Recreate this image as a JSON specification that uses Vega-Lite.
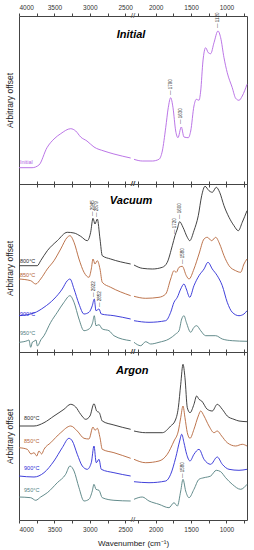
{
"$schema":"https://vega.github.io/schema/vega-lite/v6.json",
"padding":{"left":5,"top":4,"right":2,"bottom":2},
"spacing":0,
"bounds":"flush",
"columns":2,
"config":{"view":{"stroke":null},"font":"Liberation Sans",
"axis":{"grid":false,"domainColor":"#444","tickColor":"#444","labelColor":"#333","titleColor":"#222","labelFont":"Liberation Sans","titleFont":"Liberation Sans","labelFontSize":6.5,"titleFontWeight":"normal","domainWidth":1,"tickSize":3,"format":"d"}},
"datasets":{
"spectra":[
{"p":"I","g":"L","s":"Initial","x":4000,"y":16.3},{"p":"I","g":"L","s":"Initial","x":3816,"y":16.3},{"p":"I","g":"L","s":"Initial","x":3718,"y":19},{"p":"I","g":"L","s":"Initial","x":3605,"y":36.3},{"p":"I","g":"L","s":"Initial","x":3506,"y":45},{"p":"I","g":"L","s":"Initial","x":3411,"y":50.3},{"p":"I","g":"L","s":"Initial","x":3270,"y":55.3},{"p":"I","g":"L","s":"Initial","x":3199,"y":53},{"p":"I","g":"L","s":"Initial","x":3129,"y":47},{"p":"I","g":"L","s":"Initial","x":3040,"y":43},{"p":"I","g":"L","s":"Initial","x":2941,"y":37},{"p":"I","g":"L","s":"Initial","x":2800,"y":33},{"p":"I","g":"L","s":"Initial","x":2659,"y":30},{"p":"I","g":"L","s":"Initial","x":2423,"y":26},
{"p":"I","g":"R","s":"Initial","x":2306,"y":24.7},{"p":"I","g":"R","s":"Initial","x":2189,"y":23},{"p":"I","g":"R","s":"Initial","x":2047,"y":23},{"p":"I","g":"R","s":"Initial","x":1953,"y":24.7},{"p":"I","g":"R","s":"Initial","x":1906,"y":33},{"p":"I","g":"R","s":"Initial","x":1858,"y":56.3},{"p":"I","g":"R","s":"Initial","x":1822,"y":76.3},{"p":"I","g":"R","s":"Initial","x":1788,"y":86.3},{"p":"I","g":"R","s":"Initial","x":1755,"y":76.3},{"p":"I","g":"R","s":"Initial","x":1717,"y":53},{"p":"I","g":"R","s":"Initial","x":1685,"y":46.3},{"p":"I","g":"R","s":"Initial","x":1638,"y":57},{"p":"I","g":"R","s":"Initial","x":1600,"y":47},{"p":"I","g":"R","s":"Initial","x":1539,"y":46.3},{"p":"I","g":"R","s":"Initial","x":1505,"y":53},{"p":"I","g":"R","s":"Initial","x":1459,"y":78},{"p":"I","g":"R","s":"Initial","x":1426,"y":84.7},{"p":"I","g":"R","s":"Initial","x":1388,"y":83.7},{"p":"I","g":"R","s":"Initial","x":1364,"y":93},{"p":"I","g":"R","s":"Initial","x":1332,"y":123},{"p":"I","g":"R","s":"Initial","x":1294,"y":136.3},{"p":"I","g":"R","s":"Initial","x":1257,"y":131.3},{"p":"I","g":"R","s":"Initial","x":1223,"y":130.3},{"p":"I","g":"R","s":"Initial","x":1176,"y":141.3},{"p":"I","g":"R","s":"Initial","x":1120,"y":153},{"p":"I","g":"R","s":"Initial","x":1082,"y":146.3},{"p":"I","g":"R","s":"Initial","x":1035,"y":126.3},{"p":"I","g":"R","s":"Initial","x":989,"y":111.3},{"p":"I","g":"R","s":"Initial","x":918,"y":96.3},{"p":"I","g":"R","s":"Initial","x":870,"y":85.7},{"p":"I","g":"R","s":"Initial","x":823,"y":83.7},{"p":"I","g":"R","s":"Initial","x":777,"y":88},{"p":"I","g":"R","s":"Initial","x":710,"y":99.7},

{"p":"V","g":"L","s":"800°C","x":4000,"y":86.3},{"p":"V","g":"L","s":"800°C","x":3742,"y":86.3},{"p":"V","g":"L","s":"800°C","x":3694,"y":91.3},{"p":"V","g":"L","s":"800°C","x":3600,"y":101.3},{"p":"V","g":"L","s":"800°C","x":3459,"y":111.3},{"p":"V","g":"L","s":"800°C","x":3318,"y":119.7},{"p":"V","g":"L","s":"800°C","x":3223,"y":119},{"p":"V","g":"L","s":"800°C","x":3129,"y":115.7},{"p":"V","g":"L","s":"800°C","x":3036,"y":111.3},{"p":"V","g":"L","s":"800°C","x":2988,"y":119.7},{"p":"V","g":"L","s":"800°C","x":2955,"y":133.7},{"p":"V","g":"L","s":"800°C","x":2927,"y":128},{"p":"V","g":"L","s":"800°C","x":2894,"y":133},{"p":"V","g":"L","s":"800°C","x":2856,"y":113},{"p":"V","g":"L","s":"800°C","x":2824,"y":96.3},{"p":"V","g":"L","s":"800°C","x":2705,"y":93},{"p":"V","g":"L","s":"800°C","x":2423,"y":88},
{"p":"V","g":"R","s":"800°C","x":2306,"y":87},{"p":"V","g":"R","s":"800°C","x":2189,"y":83.7},{"p":"V","g":"R","s":"800°C","x":2047,"y":83},{"p":"V","g":"R","s":"800°C","x":1906,"y":84.7},{"p":"V","g":"R","s":"800°C","x":1836,"y":89.7},{"p":"V","g":"R","s":"800°C","x":1765,"y":106.3},{"p":"V","g":"R","s":"800°C","x":1727,"y":116.3},{"p":"V","g":"R","s":"800°C","x":1694,"y":123},{"p":"V","g":"R","s":"800°C","x":1661,"y":130.3},{"p":"V","g":"R","s":"800°C","x":1614,"y":124.7},{"p":"V","g":"R","s":"800°C","x":1553,"y":114.7},{"p":"V","g":"R","s":"800°C","x":1519,"y":111.3},{"p":"V","g":"R","s":"800°C","x":1459,"y":121.3},{"p":"V","g":"R","s":"800°C","x":1398,"y":136.3},{"p":"V","g":"R","s":"800°C","x":1350,"y":156.3},{"p":"V","g":"R","s":"800°C","x":1303,"y":165.7},{"p":"V","g":"R","s":"800°C","x":1247,"y":161.3},{"p":"V","g":"R","s":"800°C","x":1200,"y":159.7},{"p":"V","g":"R","s":"800°C","x":1144,"y":164.7},{"p":"V","g":"R","s":"800°C","x":1096,"y":159.7},{"p":"V","g":"R","s":"800°C","x":1035,"y":146.3},{"p":"V","g":"R","s":"800°C","x":964,"y":134.7},{"p":"V","g":"R","s":"800°C","x":894,"y":126.3},{"p":"V","g":"R","s":"800°C","x":833,"y":121.3},{"p":"V","g":"R","s":"800°C","x":777,"y":129.7},{"p":"V","g":"R","s":"800°C","x":710,"y":141.3},

{"p":"V","g":"L","s":"850°C","x":4000,"y":73},{"p":"V","g":"L","s":"850°C","x":3835,"y":71.3},{"p":"V","g":"L","s":"850°C","x":3764,"y":68},{"p":"V","g":"L","s":"850°C","x":3694,"y":73},{"p":"V","g":"L","s":"850°C","x":3600,"y":83},{"p":"V","g":"L","s":"850°C","x":3506,"y":91.3},{"p":"V","g":"L","s":"850°C","x":3411,"y":103},{"p":"V","g":"L","s":"850°C","x":3318,"y":114.7},{"p":"V","g":"L","s":"850°C","x":3280,"y":116.3},{"p":"V","g":"L","s":"850°C","x":3223,"y":109.7},{"p":"V","g":"L","s":"850°C","x":3153,"y":93},{"p":"V","g":"L","s":"850°C","x":3082,"y":79.7},{"p":"V","g":"L","s":"850°C","x":3012,"y":74.7},{"p":"V","g":"L","s":"850°C","x":2979,"y":83},{"p":"V","g":"L","s":"850°C","x":2955,"y":93},{"p":"V","g":"L","s":"850°C","x":2927,"y":88},{"p":"V","g":"L","s":"850°C","x":2894,"y":91.3},{"p":"V","g":"L","s":"850°C","x":2856,"y":83},{"p":"V","g":"L","s":"850°C","x":2824,"y":69.7},{"p":"V","g":"L","s":"850°C","x":2705,"y":64.7},{"p":"V","g":"L","s":"850°C","x":2423,"y":56.3},
{"p":"V","g":"R","s":"850°C","x":2306,"y":55.7},{"p":"V","g":"R","s":"850°C","x":2141,"y":53.7},{"p":"V","g":"R","s":"850°C","x":1953,"y":54.7},{"p":"V","g":"R","s":"850°C","x":1858,"y":58},{"p":"V","g":"R","s":"850°C","x":1788,"y":73},{"p":"V","g":"R","s":"850°C","x":1741,"y":81.3},{"p":"V","g":"R","s":"850°C","x":1709,"y":79.7},{"p":"V","g":"R","s":"850°C","x":1670,"y":84.7},{"p":"V","g":"R","s":"850°C","x":1624,"y":85.7},{"p":"V","g":"R","s":"850°C","x":1567,"y":76.3},{"p":"V","g":"R","s":"850°C","x":1529,"y":73},{"p":"V","g":"R","s":"850°C","x":1459,"y":83},{"p":"V","g":"R","s":"850°C","x":1388,"y":98},{"p":"V","g":"R","s":"850°C","x":1317,"y":113},{"p":"V","g":"R","s":"850°C","x":1271,"y":114.7},{"p":"V","g":"R","s":"850°C","x":1209,"y":111.3},{"p":"V","g":"R","s":"850°C","x":1152,"y":114.7},{"p":"V","g":"R","s":"850°C","x":1096,"y":108},{"p":"V","g":"R","s":"850°C","x":1035,"y":96.3},{"p":"V","g":"R","s":"850°C","x":964,"y":86.3},{"p":"V","g":"R","s":"850°C","x":870,"y":81.3},{"p":"V","g":"R","s":"850°C","x":800,"y":79.7},{"p":"V","g":"R","s":"850°C","x":753,"y":88},{"p":"V","g":"R","s":"850°C","x":710,"y":93},

{"p":"V","g":"L","s":"900°C","x":4000,"y":36.3},{"p":"V","g":"L","s":"900°C","x":3788,"y":39},{"p":"V","g":"L","s":"900°C","x":3647,"y":44.7},{"p":"V","g":"L","s":"900°C","x":3506,"y":53},{"p":"V","g":"L","s":"900°C","x":3389,"y":63},{"p":"V","g":"L","s":"900°C","x":3318,"y":71.3},{"p":"V","g":"L","s":"900°C","x":3280,"y":73},{"p":"V","g":"L","s":"900°C","x":3223,"y":63},{"p":"V","g":"L","s":"900°C","x":3153,"y":48},{"p":"V","g":"L","s":"900°C","x":3082,"y":38},{"p":"V","g":"L","s":"900°C","x":3012,"y":39.7},{"p":"V","g":"L","s":"900°C","x":2965,"y":46.3},{"p":"V","g":"L","s":"900°C","x":2937,"y":53},{"p":"V","g":"L","s":"900°C","x":2913,"y":41.3},{"p":"V","g":"L","s":"900°C","x":2870,"y":43},{"p":"V","g":"L","s":"900°C","x":2838,"y":38},{"p":"V","g":"L","s":"900°C","x":2659,"y":36.3},{"p":"V","g":"L","s":"900°C","x":2423,"y":33},
{"p":"V","g":"R","s":"900°C","x":2306,"y":31.3},{"p":"V","g":"R","s":"900°C","x":2094,"y":29.7},{"p":"V","g":"R","s":"900°C","x":1858,"y":31.3},{"p":"V","g":"R","s":"900°C","x":1788,"y":39.7},{"p":"V","g":"R","s":"900°C","x":1741,"y":49.7},{"p":"V","g":"R","s":"900°C","x":1694,"y":54.7},{"p":"V","g":"R","s":"900°C","x":1646,"y":63},{"p":"V","g":"R","s":"900°C","x":1600,"y":68},{"p":"V","g":"R","s":"900°C","x":1567,"y":63},{"p":"V","g":"R","s":"900°C","x":1519,"y":54.7},{"p":"V","g":"R","s":"900°C","x":1459,"y":66.3},{"p":"V","g":"R","s":"900°C","x":1388,"y":76.3},{"p":"V","g":"R","s":"900°C","x":1317,"y":83},{"p":"V","g":"R","s":"900°C","x":1261,"y":89.7},{"p":"V","g":"R","s":"900°C","x":1200,"y":83},{"p":"V","g":"R","s":"900°C","x":1130,"y":76.3},{"p":"V","g":"R","s":"900°C","x":1059,"y":66.3},{"p":"V","g":"R","s":"900°C","x":989,"y":49.7},{"p":"V","g":"R","s":"900°C","x":918,"y":39.7},{"p":"V","g":"R","s":"900°C","x":823,"y":36.3},{"p":"V","g":"R","s":"900°C","x":753,"y":38},{"p":"V","g":"R","s":"900°C","x":710,"y":41.3},

{"p":"V","g":"L","s":"950°C","x":4000,"y":9.7},{"p":"V","g":"L","s":"950°C","x":3883,"y":11.3},{"p":"V","g":"L","s":"950°C","x":3860,"y":12},{"p":"V","g":"L","s":"950°C","x":3835,"y":4.7},{"p":"V","g":"L","s":"950°C","x":3810,"y":10},{"p":"V","g":"L","s":"950°C","x":3788,"y":10.7},{"p":"V","g":"L","s":"950°C","x":3760,"y":12},{"p":"V","g":"L","s":"950°C","x":3740,"y":6},{"p":"V","g":"L","s":"950°C","x":3718,"y":8},{"p":"V","g":"L","s":"950°C","x":3700,"y":11},{"p":"V","g":"L","s":"950°C","x":3647,"y":16.3},{"p":"V","g":"L","s":"950°C","x":3552,"y":29.7},{"p":"V","g":"L","s":"950°C","x":3459,"y":39.7},{"p":"V","g":"L","s":"950°C","x":3365,"y":49.7},{"p":"V","g":"L","s":"950°C","x":3280,"y":56.3},{"p":"V","g":"L","s":"950°C","x":3223,"y":49.7},{"p":"V","g":"L","s":"950°C","x":3153,"y":33},{"p":"V","g":"L","s":"950°C","x":3082,"y":21.3},{"p":"V","g":"L","s":"950°C","x":3012,"y":23},{"p":"V","g":"L","s":"950°C","x":2959,"y":29.7},{"p":"V","g":"L","s":"950°C","x":2937,"y":36.3},{"p":"V","g":"L","s":"950°C","x":2913,"y":26.3},{"p":"V","g":"L","s":"950°C","x":2870,"y":27.3},{"p":"V","g":"L","s":"950°C","x":2824,"y":23},{"p":"V","g":"L","s":"950°C","x":2729,"y":21.3},{"p":"V","g":"L","s":"950°C","x":2659,"y":16.3},{"p":"V","g":"L","s":"950°C","x":2423,"y":11.3},
{"p":"V","g":"R","s":"950°C","x":2306,"y":9.7},{"p":"V","g":"R","s":"950°C","x":2211,"y":6.3},{"p":"V","g":"R","s":"950°C","x":2141,"y":10.3},{"p":"V","g":"R","s":"950°C","x":2070,"y":8},{"p":"V","g":"R","s":"950°C","x":1953,"y":9.7},{"p":"V","g":"R","s":"950°C","x":1812,"y":13},{"p":"V","g":"R","s":"950°C","x":1717,"y":18},{"p":"V","g":"R","s":"950°C","x":1670,"y":21.3},{"p":"V","g":"R","s":"950°C","x":1632,"y":33},{"p":"V","g":"R","s":"950°C","x":1600,"y":36.3},{"p":"V","g":"R","s":"950°C","x":1567,"y":29.7},{"p":"V","g":"R","s":"950°C","x":1505,"y":19.7},{"p":"V","g":"R","s":"950°C","x":1459,"y":24.7},{"p":"V","g":"R","s":"950°C","x":1421,"y":26.3},{"p":"V","g":"R","s":"950°C","x":1364,"y":21.3},{"p":"V","g":"R","s":"950°C","x":1294,"y":16.3},{"p":"V","g":"R","s":"950°C","x":1152,"y":16.3},{"p":"V","g":"R","s":"950°C","x":1059,"y":13},{"p":"V","g":"R","s":"950°C","x":918,"y":11.3},{"p":"V","g":"R","s":"950°C","x":710,"y":10.7},

{"p":"A","g":"L","s":"800°C","x":4000,"y":94},{"p":"A","g":"L","s":"800°C","x":3788,"y":94},{"p":"A","g":"L","s":"800°C","x":3647,"y":97.3},{"p":"A","g":"L","s":"800°C","x":3506,"y":104},{"p":"A","g":"L","s":"800°C","x":3365,"y":110.7},{"p":"A","g":"L","s":"800°C","x":3270,"y":115.7},{"p":"A","g":"L","s":"800°C","x":3199,"y":113},{"p":"A","g":"L","s":"800°C","x":3129,"y":105.7},{"p":"A","g":"L","s":"800°C","x":3058,"y":100.7},{"p":"A","g":"L","s":"800°C","x":2998,"y":104},{"p":"A","g":"L","s":"800°C","x":2941,"y":116.3},{"p":"A","g":"L","s":"800°C","x":2903,"y":109},{"p":"A","g":"L","s":"800°C","x":2866,"y":107.3},{"p":"A","g":"L","s":"800°C","x":2824,"y":99},{"p":"A","g":"L","s":"800°C","x":2659,"y":95},{"p":"A","g":"L","s":"800°C","x":2423,"y":90.7},
{"p":"A","g":"R","s":"800°C","x":2306,"y":89},{"p":"A","g":"R","s":"800°C","x":2141,"y":87.3},{"p":"A","g":"R","s":"800°C","x":1906,"y":87.3},{"p":"A","g":"R","s":"800°C","x":1788,"y":94},{"p":"A","g":"R","s":"800°C","x":1727,"y":99},{"p":"A","g":"R","s":"800°C","x":1680,"y":112.3},{"p":"A","g":"R","s":"800°C","x":1646,"y":135.7},{"p":"A","g":"R","s":"800°C","x":1614,"y":155.7},{"p":"A","g":"R","s":"800°C","x":1586,"y":142.3},{"p":"A","g":"R","s":"800°C","x":1553,"y":112.3},{"p":"A","g":"R","s":"800°C","x":1515,"y":107.3},{"p":"A","g":"R","s":"800°C","x":1459,"y":115.7},{"p":"A","g":"R","s":"800°C","x":1421,"y":124},{"p":"A","g":"R","s":"800°C","x":1388,"y":120.7},{"p":"A","g":"R","s":"800°C","x":1350,"y":119},{"p":"A","g":"R","s":"800°C","x":1271,"y":110.7},{"p":"A","g":"R","s":"800°C","x":1200,"y":109},{"p":"A","g":"R","s":"800°C","x":1130,"y":115.7},{"p":"A","g":"R","s":"800°C","x":1059,"y":110.7},{"p":"A","g":"R","s":"800°C","x":989,"y":104},{"p":"A","g":"R","s":"800°C","x":894,"y":100.7},{"p":"A","g":"R","s":"800°C","x":823,"y":99},{"p":"A","g":"R","s":"800°C","x":710,"y":98.3},

{"p":"A","g":"L","s":"850°C","x":4000,"y":72.3},{"p":"A","g":"L","s":"850°C","x":3883,"y":70.7},{"p":"A","g":"L","s":"850°C","x":3830,"y":66},{"p":"A","g":"L","s":"850°C","x":3788,"y":67.3},{"p":"A","g":"L","s":"850°C","x":3750,"y":64},{"p":"A","g":"L","s":"850°C","x":3718,"y":69},{"p":"A","g":"L","s":"850°C","x":3680,"y":66},{"p":"A","g":"L","s":"850°C","x":3647,"y":70.7},{"p":"A","g":"L","s":"850°C","x":3552,"y":77.3},{"p":"A","g":"L","s":"850°C","x":3411,"y":87.3},{"p":"A","g":"L","s":"850°C","x":3270,"y":94},{"p":"A","g":"L","s":"850°C","x":3177,"y":89},{"p":"A","g":"L","s":"850°C","x":3082,"y":81.7},{"p":"A","g":"L","s":"850°C","x":3012,"y":81},{"p":"A","g":"L","s":"850°C","x":2955,"y":93},{"p":"A","g":"L","s":"850°C","x":2927,"y":89.7},{"p":"A","g":"L","s":"850°C","x":2894,"y":91.7},{"p":"A","g":"L","s":"850°C","x":2856,"y":82.3},{"p":"A","g":"L","s":"850°C","x":2824,"y":70.7},{"p":"A","g":"L","s":"850°C","x":2659,"y":67.3},{"p":"A","g":"L","s":"850°C","x":2423,"y":61.7},
{"p":"A","g":"R","s":"850°C","x":2306,"y":60.7},{"p":"A","g":"R","s":"850°C","x":2141,"y":57.3},{"p":"A","g":"R","s":"850°C","x":1953,"y":59},{"p":"A","g":"R","s":"850°C","x":1836,"y":65.7},{"p":"A","g":"R","s":"850°C","x":1741,"y":79},{"p":"A","g":"R","s":"850°C","x":1680,"y":89},{"p":"A","g":"R","s":"850°C","x":1646,"y":102.3},{"p":"A","g":"R","s":"850°C","x":1614,"y":114},{"p":"A","g":"R","s":"850°C","x":1586,"y":102.3},{"p":"A","g":"R","s":"850°C","x":1553,"y":87.3},{"p":"A","g":"R","s":"850°C","x":1515,"y":81.7},{"p":"A","g":"R","s":"850°C","x":1459,"y":90.7},{"p":"A","g":"R","s":"850°C","x":1398,"y":104},{"p":"A","g":"R","s":"850°C","x":1364,"y":109},{"p":"A","g":"R","s":"850°C","x":1317,"y":104},{"p":"A","g":"R","s":"850°C","x":1247,"y":94},{"p":"A","g":"R","s":"850°C","x":1176,"y":87.3},{"p":"A","g":"R","s":"850°C","x":1130,"y":89},{"p":"A","g":"R","s":"850°C","x":1068,"y":84},{"p":"A","g":"R","s":"850°C","x":989,"y":77.3},{"p":"A","g":"R","s":"850°C","x":870,"y":74},{"p":"A","g":"R","s":"850°C","x":777,"y":75.7},{"p":"A","g":"R","s":"850°C","x":710,"y":74},

{"p":"A","g":"L","s":"900°C","x":4000,"y":44},{"p":"A","g":"L","s":"900°C","x":3788,"y":43},{"p":"A","g":"L","s":"900°C","x":3647,"y":47.3},{"p":"A","g":"L","s":"900°C","x":3506,"y":59},{"p":"A","g":"L","s":"900°C","x":3389,"y":72.3},{"p":"A","g":"L","s":"900°C","x":3294,"y":81.7},{"p":"A","g":"L","s":"900°C","x":3247,"y":79},{"p":"A","g":"L","s":"900°C","x":3177,"y":65.7},{"p":"A","g":"L","s":"900°C","x":3106,"y":54},{"p":"A","g":"L","s":"900°C","x":3036,"y":50.7},{"p":"A","g":"L","s":"900°C","x":2979,"y":57.3},{"p":"A","g":"L","s":"900°C","x":2941,"y":74},{"p":"A","g":"L","s":"900°C","x":2909,"y":57.3},{"p":"A","g":"L","s":"900°C","x":2870,"y":60.7},{"p":"A","g":"L","s":"900°C","x":2838,"y":50.7},{"p":"A","g":"L","s":"900°C","x":2659,"y":47.3},{"p":"A","g":"L","s":"900°C","x":2423,"y":44},
{"p":"A","g":"R","s":"900°C","x":2306,"y":38.3},{"p":"A","g":"R","s":"900°C","x":2094,"y":37.3},{"p":"A","g":"R","s":"900°C","x":1858,"y":39},{"p":"A","g":"R","s":"900°C","x":1788,"y":45.7},{"p":"A","g":"R","s":"900°C","x":1717,"y":62.3},{"p":"A","g":"R","s":"900°C","x":1661,"y":79},{"p":"A","g":"R","s":"900°C","x":1632,"y":85.7},{"p":"A","g":"R","s":"900°C","x":1600,"y":77.3},{"p":"A","g":"R","s":"900°C","x":1562,"y":65.7},{"p":"A","g":"R","s":"900°C","x":1515,"y":59},{"p":"A","g":"R","s":"900°C","x":1459,"y":65.7},{"p":"A","g":"R","s":"900°C","x":1388,"y":70.7},{"p":"A","g":"R","s":"900°C","x":1317,"y":60.7},{"p":"A","g":"R","s":"900°C","x":1223,"y":55.7},{"p":"A","g":"R","s":"900°C","x":1130,"y":63},{"p":"A","g":"R","s":"900°C","x":1059,"y":55.7},{"p":"A","g":"R","s":"900°C","x":964,"y":50.7},{"p":"A","g":"R","s":"900°C","x":823,"y":49.7},{"p":"A","g":"R","s":"900°C","x":710,"y":50.7},

{"p":"A","g":"L","s":"950°C","x":4000,"y":23},{"p":"A","g":"L","s":"950°C","x":3835,"y":22.3},{"p":"A","g":"L","s":"950°C","x":3764,"y":19.7},{"p":"A","g":"L","s":"950°C","x":3694,"y":23},{"p":"A","g":"L","s":"950°C","x":3600,"y":27.3},{"p":"A","g":"L","s":"950°C","x":3459,"y":37.3},{"p":"A","g":"L","s":"950°C","x":3341,"y":45.7},{"p":"A","g":"L","s":"950°C","x":3280,"y":54},{"p":"A","g":"L","s":"950°C","x":3223,"y":49},{"p":"A","g":"L","s":"950°C","x":3153,"y":32.3},{"p":"A","g":"L","s":"950°C","x":3082,"y":19},{"p":"A","g":"L","s":"950°C","x":3012,"y":20.7},{"p":"A","g":"L","s":"950°C","x":2965,"y":29},{"p":"A","g":"L","s":"950°C","x":2941,"y":35.7},{"p":"A","g":"L","s":"950°C","x":2913,"y":30.7},{"p":"A","g":"L","s":"950°C","x":2870,"y":29.7},{"p":"A","g":"L","s":"950°C","x":2824,"y":22.3},{"p":"A","g":"L","s":"950°C","x":2659,"y":19.7},{"p":"A","g":"L","s":"950°C","x":2423,"y":19},
{"p":"A","g":"R","s":"950°C","x":2306,"y":20.7},{"p":"A","g":"R","s":"950°C","x":2189,"y":23},{"p":"A","g":"R","s":"950°C","x":2094,"y":19},{"p":"A","g":"R","s":"950°C","x":1953,"y":15.7},{"p":"A","g":"R","s":"950°C","x":1812,"y":12.3},{"p":"A","g":"R","s":"950°C","x":1741,"y":17.3},{"p":"A","g":"R","s":"950°C","x":1694,"y":14},{"p":"A","g":"R","s":"950°C","x":1646,"y":29},{"p":"A","g":"R","s":"950°C","x":1614,"y":40.7},{"p":"A","g":"R","s":"950°C","x":1576,"y":29},{"p":"A","g":"R","s":"950°C","x":1529,"y":22.3},{"p":"A","g":"R","s":"950°C","x":1459,"y":30.7},{"p":"A","g":"R","s":"950°C","x":1388,"y":40.7},{"p":"A","g":"R","s":"950°C","x":1317,"y":42.3},{"p":"A","g":"R","s":"950°C","x":1223,"y":44},{"p":"A","g":"R","s":"950°C","x":1144,"y":49.7},{"p":"A","g":"R","s":"950°C","x":1082,"y":48.3},{"p":"A","g":"R","s":"950°C","x":1012,"y":42.3},{"p":"A","g":"R","s":"950°C","x":918,"y":35.7},{"p":"A","g":"R","s":"950°C","x":800,"y":30.7},{"p":"A","g":"R","s":"950°C","x":710,"y":35.7}
],
"series":[
{"p":"I","s":"Initial","x":3986,"y":22},
{"p":"V","s":"800°C","x":3986,"y":91},{"p":"V","s":"850°C","x":3986,"y":77},{"p":"V","s":"900°C","x":3986,"y":38},{"p":"V","s":"950°C","x":3986,"y":19},
{"p":"A","s":"800°C","x":3929,"y":102},{"p":"A","s":"850°C","x":3929,"y":79},{"p":"A","s":"900°C","x":3929,"y":52},{"p":"A","s":"950°C","x":3929,"y":30}
],
"peaks":[
{"p":"I","g":"R","x":1788,"y":89,"t":"— 1790"},{"p":"I","g":"R","x":1638,"y":60,"t":"— 1630"},{"p":"I","g":"R","x":1120,"y":156,"t":"— 1120"},
{"p":"V","g":"L","x":2955,"y":136,"t":"— 2945"},{"p":"V","g":"L","x":2894,"y":135,"t":"— 2879"},{"p":"V","g":"L","x":2937,"y":55,"t":"— 2922"},{"p":"V","g":"L","x":2856,"y":45,"t":"— 2852"},
{"p":"V","g":"R","x":1727,"y":118,"t":"— 1720"},{"p":"V","g":"R","x":1661,"y":133,"t":"— 1600"},{"p":"V","g":"R","x":1610,"y":88,"t":"— 1580"},
{"p":"A","g":"R","x":1610,"y":42,"t":"— 1580"}
],
"titles":[
{"p":"I","x":2418,"y":149,"t":"Initial"},{"p":"V","x":2418,"y":151,"t":"Vacuum"},{"p":"A","x":2400,"y":149,"t":"Argon"}
],
"breaks":[
{"p":"I","x":2390,"y":168},{"p":"I","x":2390,"y":0},{"p":"V","x":2390,"y":168},{"p":"V","x":2390,"y":0},{"p":"A","x":2390,"y":168},{"p":"A","x":2390,"y":0}
]
},
"concat":[
{"width":114,"height":168,"resolve":{"axis":{"x":"independent","y":"independent"}},"layer":[
 {"data":{"name":"spectra"},"transform":[{"filter":"datum.p=='I' && datum.g=='L'"}],"mark":{"type":"line","interpolate":"monotone","strokeWidth":0.9},
  "encoding":{"x":{"field":"x","type":"quantitative","scale":{"domain":[4000,2390],"nice":false,"zero":false},"axis":{"orient":"bottom","values":[4000,3750,3500,3250,3000,2750,2500],"labels":false,"title":null}},
  "y":{"field":"y","type":"quantitative","scale":{"domain":[0,168],"nice":false,"zero":false},"axis":{"orient":"left","title":"Arbitrary offset","labels":false,"ticks":false,"titleFontSize":8.5,"titlePadding":5}},
  "color":{"field":"s","type":"nominal","scale":{"domain":["Initial","800°C","850°C","900°C","950°C"],"range":["#b366e3","#2e2e2e","#b5653a","#2b2bd6","#527f7f"]},"legend":null}}},
 {"data":{"name":"series"},"transform":[{"filter":"datum.p=='I'"}],"mark":{"type":"text","align":"left","baseline":"middle","fontSize":5.5},
  "encoding":{"x":{"field":"x","type":"quantitative","axis":null},"y":{"field":"y","type":"quantitative","axis":null},"text":{"field":"s"},"color":{"field":"s","type":"nominal","legend":null}}},
 {"data":{"name":"titles"},"transform":[{"filter":"datum.p=='I'"}],"mark":{"type":"text","align":"center","baseline":"middle","fontSize":11,"fontWeight":"bold","fontStyle":"italic","color":"#000"},
  "encoding":{"x":{"field":"x","type":"quantitative","axis":null},"y":{"field":"y","type":"quantitative","axis":null},"text":{"field":"t"}}},
 {"data":{"name":"breaks"},"transform":[{"filter":"datum.p=='I'"}],"mark":{"type":"text","align":"center","baseline":"middle","fontSize":8,"color":"#444","text":"//"},
  "encoding":{"x":{"field":"x","type":"quantitative","axis":{"orient":"top","values":[4000,3750,3500,3250,3000,2750,2500],"labelExpr":"datum.value % 500 == 0 ? datum.label : ''","title":null,"labelPadding":3}},"y":{"field":"y","type":"quantitative","axis":null}}}
]},
{"width":114,"height":168,"resolve":{"axis":{"x":"independent","y":"independent"}},"layer":[
 {"data":{"name":"spectra"},"transform":[{"filter":"datum.p=='I' && datum.g=='R'"}],"mark":{"type":"line","interpolate":"monotone","strokeWidth":0.9},
  "encoding":{"x":{"field":"x","type":"quantitative","scale":{"domain":[2320,710],"nice":false,"zero":false},"axis":{"orient":"bottom","values":[2250,2000,1750,1500,1250,1000,750],"labels":false,"title":null}},
  "y":{"field":"y","type":"quantitative","scale":{"domain":[0,168],"nice":false,"zero":false},"axis":{"orient":"right","title":null,"labels":false,"ticks":false}},
  "color":{"field":"s","type":"nominal","scale":{"domain":["Initial","800°C","850°C","900°C","950°C"],"range":["#b366e3","#2e2e2e","#b5653a","#2b2bd6","#527f7f"]},"legend":null}}},
 {"data":{"name":"peaks"},"transform":[{"filter":"datum.p=='I' && datum.g=='R'"}],"mark":{"type":"text","align":"left","baseline":"middle","fontSize":4.5,"angle":270,"color":"#333"},
  "encoding":{"x":{"field":"x","type":"quantitative","axis":{"orient":"top","values":[2250,2000,1750,1500,1250,1000,750],"labelExpr":"datum.value % 500 == 0 ? datum.label : ''","title":null,"labelPadding":3}},"y":{"field":"y","type":"quantitative","axis":null},"text":{"field":"t"}}}
]},
{"width":114,"height":168,"resolve":{"axis":{"x":"independent","y":"independent"}},"layer":[
 {"data":{"name":"spectra"},"transform":[{"filter":"datum.p=='V' && datum.g=='L'"}],"mark":{"type":"line","interpolate":"monotone","strokeWidth":0.9},
  "encoding":{"x":{"field":"x","type":"quantitative","scale":{"domain":[4000,2390],"nice":false,"zero":false},"axis":{"orient":"bottom","values":[4000,3750,3500,3250,3000,2750,2500],"labels":false,"title":null}},
  "y":{"field":"y","type":"quantitative","scale":{"domain":[0,168],"nice":false,"zero":false},"axis":{"orient":"left","title":"Arbitrary offset","labels":false,"ticks":false,"titleFontSize":8.5,"titlePadding":5}},
  "color":{"field":"s","type":"nominal","scale":{"domain":["Initial","800°C","850°C","900°C","950°C"],"range":["#b366e3","#2e2e2e","#b5653a","#2b2bd6","#527f7f"]},"legend":null}}},
 {"data":{"name":"series"},"transform":[{"filter":"datum.p=='V'"}],"mark":{"type":"text","align":"left","baseline":"middle","fontSize":5.5},
  "encoding":{"x":{"field":"x","type":"quantitative","axis":null},"y":{"field":"y","type":"quantitative","axis":null},"text":{"field":"s"},"color":{"field":"s","type":"nominal","legend":null}}},
 {"data":{"name":"peaks"},"transform":[{"filter":"datum.p=='V' && datum.g=='L'"}],"mark":{"type":"text","align":"left","baseline":"middle","fontSize":4.5,"angle":270,"color":"#333"},
  "encoding":{"x":{"field":"x","type":"quantitative","axis":null},"y":{"field":"y","type":"quantitative","axis":null},"text":{"field":"t"}}},
 {"data":{"name":"titles"},"transform":[{"filter":"datum.p=='V'"}],"mark":{"type":"text","align":"center","baseline":"middle","fontSize":11,"fontWeight":"bold","fontStyle":"italic","color":"#000"},
  "encoding":{"x":{"field":"x","type":"quantitative","axis":null},"y":{"field":"y","type":"quantitative","axis":null},"text":{"field":"t"}}},
 {"data":{"name":"breaks"},"transform":[{"filter":"datum.p=='V'"}],"mark":{"type":"text","align":"center","baseline":"middle","fontSize":8,"color":"#444","text":"//"},
  "encoding":{"x":{"field":"x","type":"quantitative","axis":{"orient":"top","values":[4000,3750,3500,3250,3000,2750,2500],"labels":false,"title":null}},"y":{"field":"y","type":"quantitative","axis":null}}}
]},
{"width":114,"height":168,"resolve":{"axis":{"x":"independent","y":"independent"}},"layer":[
 {"data":{"name":"spectra"},"transform":[{"filter":"datum.p=='V' && datum.g=='R'"}],"mark":{"type":"line","interpolate":"monotone","strokeWidth":0.9},
  "encoding":{"x":{"field":"x","type":"quantitative","scale":{"domain":[2320,710],"nice":false,"zero":false},"axis":{"orient":"bottom","values":[2250,2000,1750,1500,1250,1000,750],"labels":false,"title":null}},
  "y":{"field":"y","type":"quantitative","scale":{"domain":[0,168],"nice":false,"zero":false},"axis":{"orient":"right","title":null,"labels":false,"ticks":false}},
  "color":{"field":"s","type":"nominal","scale":{"domain":["Initial","800°C","850°C","900°C","950°C"],"range":["#b366e3","#2e2e2e","#b5653a","#2b2bd6","#527f7f"]},"legend":null}}},
 {"data":{"name":"peaks"},"transform":[{"filter":"datum.p=='V' && datum.g=='R'"}],"mark":{"type":"text","align":"left","baseline":"middle","fontSize":4.5,"angle":270,"color":"#333"},
  "encoding":{"x":{"field":"x","type":"quantitative","axis":{"orient":"top","values":[2250,2000,1750,1500,1250,1000,750],"labels":false,"title":null}},"y":{"field":"y","type":"quantitative","axis":null},"text":{"field":"t"}}}
]},
{"width":114,"height":168,"resolve":{"axis":{"x":"independent","y":"independent"}},"layer":[
 {"data":{"name":"spectra"},"transform":[{"filter":"datum.p=='A' && datum.g=='L'"}],"mark":{"type":"line","interpolate":"monotone","strokeWidth":0.9},
  "encoding":{"x":{"field":"x","type":"quantitative","scale":{"domain":[4000,2390],"nice":false,"zero":false},"axis":{"orient":"bottom","values":[4000,3750,3500,3250,3000,2750,2500],"labelExpr":"datum.value % 500 == 0 ? datum.label : ''","title":"Wavenumber (cm⁻¹)","titleX":114,"titleAlign":"center","titleFontSize":8,"titlePadding":7,"labelPadding":3}},
  "y":{"field":"y","type":"quantitative","scale":{"domain":[0,168],"nice":false,"zero":false},"axis":{"orient":"left","title":"Arbitrary offset","labels":false,"ticks":false,"titleFontSize":8.5,"titlePadding":5}},
  "color":{"field":"s","type":"nominal","scale":{"domain":["Initial","800°C","850°C","900°C","950°C"],"range":["#b366e3","#2e2e2e","#b5653a","#2b2bd6","#527f7f"]},"legend":null}}},
 {"data":{"name":"series"},"transform":[{"filter":"datum.p=='A'"}],"mark":{"type":"text","align":"left","baseline":"middle","fontSize":5.5},
  "encoding":{"x":{"field":"x","type":"quantitative","axis":null},"y":{"field":"y","type":"quantitative","axis":null},"text":{"field":"s"},"color":{"field":"s","type":"nominal","legend":null}}},
 {"data":{"name":"titles"},"transform":[{"filter":"datum.p=='A'"}],"mark":{"type":"text","align":"center","baseline":"middle","fontSize":11,"fontWeight":"bold","fontStyle":"italic","color":"#000"},
  "encoding":{"x":{"field":"x","type":"quantitative","axis":null},"y":{"field":"y","type":"quantitative","axis":null},"text":{"field":"t"}}},
 {"data":{"name":"breaks"},"transform":[{"filter":"datum.p=='A'"}],"mark":{"type":"text","align":"center","baseline":"middle","fontSize":8,"color":"#444","text":"//"},
  "encoding":{"x":{"field":"x","type":"quantitative","axis":{"orient":"top","values":[4000,3750,3500,3250,3000,2750,2500],"labels":false,"title":null}},"y":{"field":"y","type":"quantitative","axis":null}}}
]},
{"width":114,"height":168,"resolve":{"axis":{"x":"independent","y":"independent"}},"layer":[
 {"data":{"name":"spectra"},"transform":[{"filter":"datum.p=='A' && datum.g=='R'"}],"mark":{"type":"line","interpolate":"monotone","strokeWidth":0.9},
  "encoding":{"x":{"field":"x","type":"quantitative","scale":{"domain":[2320,710],"nice":false,"zero":false},"axis":{"orient":"bottom","values":[2250,2000,1750,1500,1250,1000,750],"labelExpr":"datum.value % 500 == 0 ? datum.label : ''","title":null,"labelPadding":3}},
  "y":{"field":"y","type":"quantitative","scale":{"domain":[0,168],"nice":false,"zero":false},"axis":{"orient":"right","title":null,"labels":false,"ticks":false}},
  "color":{"field":"s","type":"nominal","scale":{"domain":["Initial","800°C","850°C","900°C","950°C"],"range":["#b366e3","#2e2e2e","#b5653a","#2b2bd6","#527f7f"]},"legend":null}}},
 {"data":{"name":"peaks"},"transform":[{"filter":"datum.p=='A' && datum.g=='R'"}],"mark":{"type":"text","align":"left","baseline":"middle","fontSize":4.5,"angle":270,"color":"#333"},
  "encoding":{"x":{"field":"x","type":"quantitative","axis":{"orient":"top","values":[2250,2000,1750,1500,1250,1000,750],"labels":false,"title":null}},"y":{"field":"y","type":"quantitative","axis":null},"text":{"field":"t"}}}
]}
]
}
